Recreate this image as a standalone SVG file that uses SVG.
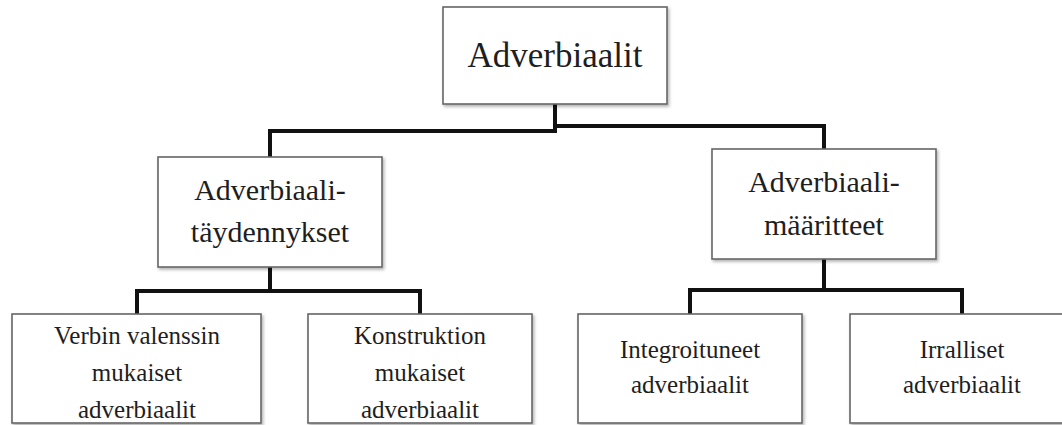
<svg xmlns="http://www.w3.org/2000/svg" width="1062" height="425" viewBox="0 0 1062 425" font-family="'Liberation Serif', 'Times New Roman', serif">
<style>
.box{fill:#fff;stroke:#666;stroke-width:1.6;filter:url(#sh)}
text{font-family:"Liberation Serif","Times New Roman",serif;fill:#1e1e1e;text-anchor:middle}
.big{font-size:35px}
.mid{font-size:30px}
.sm{font-size:25px}
.c{fill:none;stroke:#111;stroke-width:4;stroke-linecap:square;stroke-linejoin:miter}
</style>
<defs>
<filter id="sh" x="-10%" y="-10%" width="120%" height="130%">
<feDropShadow dx="1.5" dy="2" stdDeviation="1.5" flood-color="#000" flood-opacity="0.3"/>
</filter>
</defs>
<rect width="1062" height="425" fill="#fff"/>
<g id="connectors">
<path class="c" d="M555,104 V131"/>
<path class="c" d="M270,157 V131 H555"/>
<path class="c" d="M555,126 H824 V149"/>
<path class="c" d="M270,267 V291"/>
<path class="c" d="M137,314 V291 H420 V314"/>
<path class="c" d="M824,259 V290"/>
<path class="c" d="M690,313 V290 H962 V313"/>
</g>
<g id="root">
<rect class="box" x="443" y="7" width="224" height="97"/>
<text class="big" x="555" y="67" font-family="Liberation Serif">Adverbiaalit</text>
</g>
<g id="taydennykset">
<rect class="box" x="158" y="157" width="224" height="110"/>
<text class="mid" x="270" y="200" font-family="Liberation Serif">Adverbiaali-</text>
<text class="mid" x="270" y="242" font-family="Liberation Serif">täydennykset</text>
</g>
<g id="maaritteet">
<rect class="box" x="712" y="149" width="224" height="110"/>
<text class="mid" x="824" y="192" font-family="Liberation Serif">Adverbiaali-</text>
<text class="mid" x="824" y="235" font-family="Liberation Serif">määritteet</text>
</g>
<g id="verbin">
<rect class="box" x="12" y="314" width="249" height="109"/>
<text class="sm" x="137" y="344" font-family="Liberation Serif">Verbin valenssin</text>
<text class="sm" x="137" y="381" font-family="Liberation Serif">mukaiset</text>
<text class="sm" x="137" y="418" font-family="Liberation Serif">adverbiaalit</text>
</g>
<g id="konstruktion">
<rect class="box" x="308" y="314" width="224" height="109"/>
<text class="sm" x="420" y="344" font-family="Liberation Serif">Konstruktion</text>
<text class="sm" x="420" y="381" font-family="Liberation Serif">mukaiset</text>
<text class="sm" x="420" y="418" font-family="Liberation Serif">adverbiaalit</text>
</g>
<g id="integroituneet">
<rect class="box" x="578" y="314" width="224" height="109"/>
<text class="sm" x="690" y="358" font-family="Liberation Serif">Integroituneet</text>
<text class="sm" x="690" y="393" font-family="Liberation Serif">adverbiaalit</text>
</g>
<g id="irralliset">
<rect class="box" x="850" y="314" width="224" height="109"/>
<text class="sm" x="962" y="358" font-family="Liberation Serif">Irralliset</text>
<text class="sm" x="962" y="393" font-family="Liberation Serif">adverbiaalit</text>
</g>
</svg>
